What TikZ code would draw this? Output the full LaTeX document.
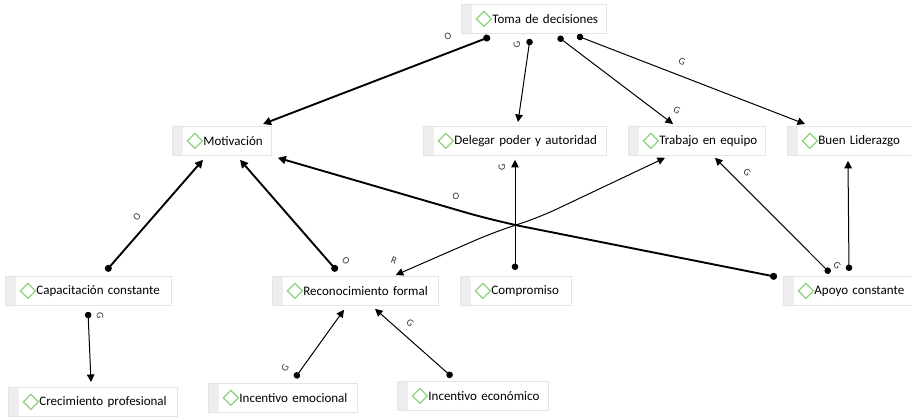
\documentclass[tikz,border=0pt]{standalone}
\usepackage{fontspec}
\setmainfont{Carlito}
\usetikzlibrary{arrows.meta,calc}
\definecolor{boxline}{HTML}{E4E4E4}
\definecolor{stripc}{HTML}{EEEEEE}
\definecolor{diac}{HTML}{8ED27C}
\definecolor{lblc}{HTML}{333333}
\tikzset{
  cbox/.style={draw=boxline, line width=0.8pt, fill=white, anchor=north west,
    minimum height=29pt, inner xsep=0pt, inner ysep=0pt, text width=#1,
    align=left, font=\fontsize{13}{15}\selectfont,
    execute at begin node={\hspace*{31pt}},
    path picture={
      \fill[stripc] (path picture bounding box.north west) rectangle ([xshift=11pt]path picture bounding box.south west);
      \draw[diac, line width=1.2pt] ([xshift=15pt]path picture bounding box.west) -- ++(7.5pt,7.5pt) -- ++(7.5pt,-7.5pt) -- ++(-7.5pt,-7.5pt) -- cycle;
    }},
  lab/.style={font=\fontsize{10}{10}\selectfont, text=lblc, inner sep=0pt},
  thinc/.style={line width=1pt, {Circle[length=6.5pt]}-{Triangle[length=7.5pt,width=7.5pt]}},
  thickc/.style={line width=1.9pt, {Circle[length=7pt]}-{Triangle[length=8pt,width=8pt]}},
  biarr/.style={line width=1pt, {Triangle[length=7.5pt,width=7.5pt]}-{Triangle[length=7.5pt,width=7.5pt]}}
}
\begin{document}
\begin{tikzpicture}[x=1pt,y=-1pt]
\useasboundingbox (0,0) rectangle (911,417);
% nodes
\node[cbox=145pt] (t)  at (461,4)   {Toma de decisiones};
\node[cbox=99pt]  (m)  at (172,126) {Motivación};
\node[cbox=183pt] (d)  at (423,126) {Delegar poder y autoridad};
\node[cbox=137pt] (tr) at (628,126) {Trabajo en equipo};
\node[cbox=124pt] (b)  at (787,126) {Buen Liderazgo};
\node[cbox=166pt] (c)  at (5,276)   {Capacitación constante};
\node[cbox=166pt] (r)  at (272,276) {Reconocimiento formal};
\node[cbox=111pt] (co) at (460,276) {Compromiso};
\node[cbox=128pt] (a)  at (783,276) {Apoyo constante};
\node[cbox=169pt] (cr) at (8,387)   {Crecimiento profesional};
\node[cbox=149pt] (ie) at (208,383) {Incentivo emocional};
\node[cbox=151pt] (ic) at (397,381) {Incentivo económico};
% bend points
\coordinate (bend1) at (495,221);
\coordinate (bend2) at (492,233);
\coordinate (bend3) at (540,217);
% connectors
\draw[thickc] ($(t.south west)+(29,3)$) -- ($(m.north west)+(91,-2)$);
\draw[thinc] ($(t.south west)+(69,5)$) -- ($(d.north west)+(95,-4)$);
\draw[thinc] ($(t.south west)+(97,3)$) -- ($(tr.north west)+(45,-2)$);
\draw[thinc] ($(t.south west)+(116,2)$) -- ($(b.north west)+(18,-2)$);
\draw[thickc] ($(c.north west)+(101,-5)$) -- ($(m.south west)+(31,4)$);
\draw[thickc] ($(r.north west)+(65,-5)$) -- ($(m.south west)+(68,4)$);
\draw[thickc, rounded corners=30pt] ($(a.north west)+(-6,1)$) -- (bend1) -- ($(m.south east)+(6,2)$);
\draw[thinc] ($(co.north west)+(55,-6)$) -- ($(d.south west)+(92,4)$);
\draw[biarr, rounded corners=18pt] ($(r.north east)+(-43,-1)$) -- (bend2) -- (bend3) -- ($(tr.south west)+(37,2)$);
\draw[thinc] ($(a.north west)+(47,-3)$) -- ($(tr.south west)+(87,2)$);
\draw[thinc] ($(a.north west)+(66,-5)$) -- ($(b.south west)+(61,5)$);
\draw[thinc] ($(c.south west)+(83,6)$) -- ($(cr.north west)+(83,-5)$);
\draw[thinc] ($(ie.north west)+(87,-5)$) -- ($(r.south west)+(72,4)$);
\draw[thinc] ($(ic.north west)+(55,-4)$) -- ($(r.south west)+(103,3)$);
% labels
\node[lab, rotate=20]  (l1)  at (448,36)  {O};
\node[lab, rotate=95]  (l2)  at (517,45)  {G};
\node[lab, rotate=-21] (l3)  at (682,62)  {G};
\node[lab, rotate=-30] (l4)  at (677,110) {G};
\node[lab, rotate=48]  (l5)  at (137,217) {O};
\node[lab, rotate=-48] (l6)  at (346,261) {O};
\node[lab, rotate=-16] (l7)  at (456,196) {O};
\node[lab, rotate=-20] (l8)  at (394,260) {R};
\node[lab, rotate=90]  (l9)  at (502,167) {G};
\node[lab, rotate=-45] (l10) at (747,172) {G};
\node[lab, rotate=-45] (l11) at (837,265) {G};
\node[lab, rotate=-90] (l12) at (100,316) {G};
\node[lab, rotate=55]  (l13) at (285,368) {G};
\node[lab, rotate=-40] (l14) at (410,323) {G};
\end{tikzpicture}
\end{document}
